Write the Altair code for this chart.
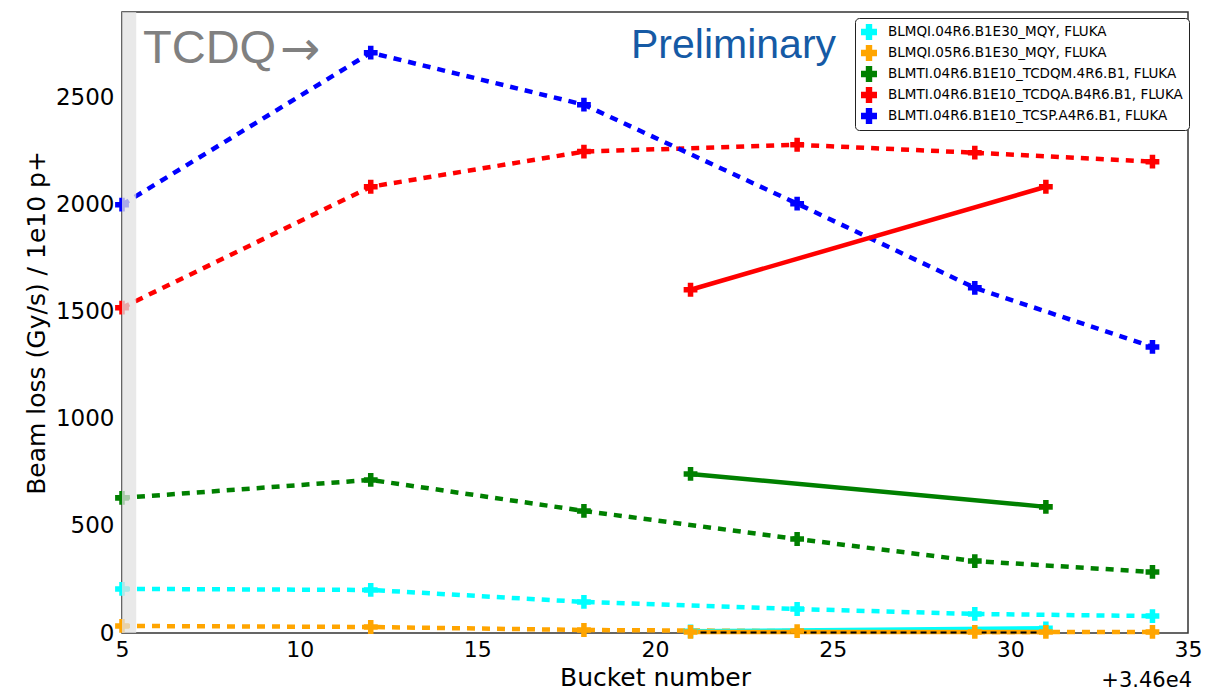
import altair as alt
import pandas as pd

series_names = [
    "BLMQI.04R6.B1E30_MQY, FLUKA",
    "BLMQI.05R6.B1E30_MQY, FLUKA",
    "BLMTI.04R6.B1E10_TCDQM.4R6.B1, FLUKA",
    "BLMTI.04R6.B1E10_TCDQA.B4R6.B1, FLUKA",
    "BLMTI.04R6.B1E10_TCSP.A4R6.B1, FLUKA",
]
series_colors = ["#00ffff", "#ffa500", "#008000", "#ff0000", "#0000ff"]

# dashed series (bucket offsets from 34600)
dashed_x = [5, 12, 18, 24, 29, 34]
cyan_dashed = [206, 201, 145, 112, 89, 79]
orange_dashed = [33, 28, 14, 9, 5, 5]
green_dashed = [631, 715, 570, 439, 336, 285]
red_dashed = [1519, 2084, 2248, 2280, 2243, 2201]
blue_dashed = [2000, 2710, 2467, 2005, 1612, 1336]

# solid series
solid_x = [21, 31]
cyan_solid = [8, 22]
orange_solid = [5, 5]
green_solid = [743, 589]
red_solid = [1603, 2084]
black_solid = [2, 2]

rows = []
for name, vals in zip(series_names, [cyan_dashed, orange_dashed, green_dashed, red_dashed, blue_dashed]):
    for x, v in zip(dashed_x, vals):
        rows.append({"series": name, "grp": name + " d", "x": x, "y": v, "style": "dashed"})
for name, vals in zip(series_names[:4], [cyan_solid, orange_solid, green_solid, red_solid]):
    for x, v in zip(solid_x, vals):
        rows.append({"series": name, "grp": name + " s", "x": x, "y": v, "style": "solid"})
df = pd.DataFrame(rows)
black_df = pd.DataFrame({"x": solid_x, "y": black_solid})
band_df = pd.DataFrame({"x0": [5], "x1": [5.4]})

xscale = alt.Scale(domain=[5, 35], nice=False, zero=False)
yscale = alt.Scale(domain=[0, 2900], nice=False)
cscale = alt.Scale(domain=series_names, range=series_colors)

legend = alt.Legend(title=None, orient="none", legendX=733, legendY=6,
                    symbolType="cross", symbolSize=256, symbolStrokeWidth=0,
                    labelFontSize=13.5, labelFont="DejaVu Sans", labelColor="black",
                    strokeColor="#222222", fillColor="white", cornerRadius=4,
                    padding=6, rowPadding=5, labelOffset=11, labelLimit=400)
C = alt.Color("series:N", scale=cscale, legend=legend)

X = alt.X("x:Q", scale=xscale, title="Bucket number",
          axis=alt.Axis(values=[5, 10, 15, 20, 25, 30, 35], grid=False, ticks=False,
                        labelFontSize=22, titleFontSize=25, labelPadding=6, titlePadding=5,
                        labelFont="DejaVu Sans", titleFont="DejaVu Sans", labelColor="black",
                        titleColor="black", titleFontWeight="normal", domain=False, labelFlush=False))
Y = alt.Y("y:Q", scale=yscale, title="Beam loss (Gy/s) / 1e10 p+",
          axis=alt.Axis(values=[0, 500, 1000, 1500, 2000, 2500], format="d", grid=False, ticks=False,
                        labelFontSize=23, titleFontSize=25, labelPadding=8, titlePadding=6,
                        labelFont="DejaVu Sans", titleFont="DejaVu Sans", labelColor="black",
                        titleColor="black", titleFontWeight="normal", domain=False))

base = alt.Chart(df)

dashed = base.transform_filter(alt.datum.style == "dashed").mark_line(
    strokeWidth=4.5, strokeDash=[8, 7]).encode(x=X, y=Y, color=C, detail="grp:N")
solid = base.transform_filter(alt.datum.style == "solid").mark_line(
    strokeWidth=4.5).encode(x=X, y=Y, color=C, detail="grp:N")
points = base.mark_point(shape="cross", filled=True, size=190, opacity=1, strokeWidth=0).encode(
    x=X, y=Y, color=C)

black_line = alt.Chart(black_df).mark_line(strokeWidth=2, color="black", strokeDash=[6, 4]).encode(x=X, y=Y)
black_pts = alt.Chart(black_df).mark_point(shape="cross", filled=True, size=60, color="black", opacity=1).encode(x=X, y=Y)

band = alt.Chart(band_df).mark_rect(color="#e2e2e2", opacity=0.75).encode(
    x=alt.X("x0:Q", scale=xscale), x2="x1:Q", y=alt.value(0), y2=alt.value(621))

tcdq = alt.Chart(pd.DataFrame({"t": ["TCDQ"]})).mark_text(
    align="left", baseline="alphabetic", fontSize=47, font="Liberation Sans", color="#808080").encode(
    text="t:N", x=alt.value(21), y=alt.value(51))
arrow = alt.Chart(pd.DataFrame({"t": ["→"]})).mark_text(
    align="left", baseline="alphabetic", fontSize=48, font="DejaVu Sans", color="#808080").encode(
    text="t:N", x=alt.value(158), y=alt.value(53))
prelim = alt.Chart(pd.DataFrame({"t": ["Preliminary"]})).mark_text(
    align="left", baseline="alphabetic", fontSize=41, font="Liberation Sans", color="#155aa5").encode(
    text="t:N", x=alt.value(509), y=alt.value(46))
offset = alt.Chart(pd.DataFrame({"t": ["+3.46e4"]})).mark_text(
    align="right", baseline="alphabetic", fontSize=21, font="DejaVu Sans", color="black").encode(
    text="t:N", x=alt.value(1070), y=alt.value(675))

chart = alt.layer(dashed, solid, black_line, black_pts, points, band, tcdq, arrow, prelim, offset).properties(
    width=1066, height=621,
    background="white",
    autosize=alt.AutoSizeParams(type="none"),
    padding={"left": 114, "top": 4, "right": 14, "bottom": 60},
).configure_view(stroke="#333333", strokeWidth=1.5)

chart.save("out.html", embed_options={"renderer": "svg", "actions": False})
